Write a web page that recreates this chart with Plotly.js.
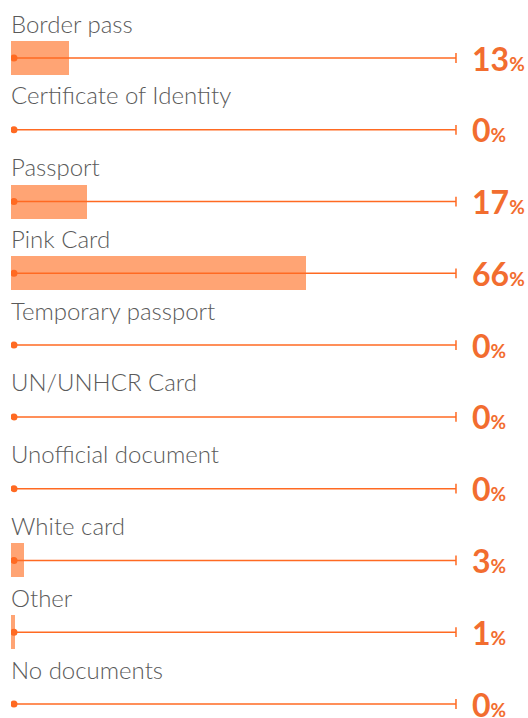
<!DOCTYPE html>
<html><head><meta charset="utf-8">
<script src="https://cdn.plot.ly/plotly-3.0.1.min.js"></script>
<style>html,body{margin:0;padding:0;background:#fff;}#chart{width:528px;height:718px;}</style>
</head><body><div id="chart"></div>
<script>
const categories = ["Border pass","Certificate of Identity","Passport","Pink Card","Temporary passport","UN/UNHCR Card","Unofficial document","White card","Other","No documents"];
const values = [13,0,17,66,0,0,0,3,1,0];
const percentLabels = ["13","0","17","66","0","0","0","3","1","0"];

const rows = categories.map((c,i)=>i);
const barColor = '#ffa474';
const lineColor = '#ff6a22';
const textOrange = '#f26d2f';

const traces = [];
traces.push({
  type:'bar', orientation:'h', x: values, y: rows, base: 0,
  width: 0.474, marker:{color: barColor}, hoverinfo:'skip', showlegend:false
});
rows.forEach(i=>{
  traces.push({
    type:'scatter', mode:'lines', x:[0.67, 99.55], y:[i,i],
    line:{color: lineColor, width:1.5}, hoverinfo:'skip', showlegend:false
  });
});
traces.push({
  type:'scatter', mode:'markers', x: rows.map(()=>0.67), y: rows,
  marker:{color: lineColor, size:7, symbol:'circle'}, hoverinfo:'skip', showlegend:false
});
traces.push({
  type:'scatter', mode:'markers', x: rows.map(()=>99.55), y: rows,
  marker:{color: lineColor, size:7, symbol:'line-ns', line:{color: lineColor, width:1.5}}, hoverinfo:'skip', showlegend:false, cliponaxis:false
});

const annotations = [];
categories.forEach((c,i)=>{
  annotations.push({
    xref:'x', yref:'y', x:0, y:i, xanchor:'left', yanchor:'middle', yshift:35, xshift:-2,
    text:c, showarrow:false, align:'left',
    font:{family:'Lato, "Open Sans", sans-serif', size:24, color:'#5a5a5a', weight:300}
  });
  annotations.push({
    xref:'paper', yref:'y', x:1.027, y:i, xanchor:'left', yanchor:'middle', yshift:0,
    text: '<b>' + percentLabels[i] + '<span style="font-size:19px">%</span></b>', showarrow:false,
    font:{family:'Lato, "Open Sans", sans-serif', size:32, color:textOrange, weight:'bold'}
  });
});

const layout = {
  width:528, height:718,
  margin:{l:11, r:70, t:0, b:0, pad:0},
  paper_bgcolor:'#fff', plot_bgcolor:'rgba(0,0,0,0)',
  xaxis:{range:[0,100], visible:false, fixedrange:true},
  yaxis:{range:[9.195,-0.808], visible:false, fixedrange:true},
  annotations: annotations, showlegend:false, bargap:0
};
Plotly.newPlot('chart', traces, layout, {displayModeBar:false, staticPlot:true});
</script></body></html>
